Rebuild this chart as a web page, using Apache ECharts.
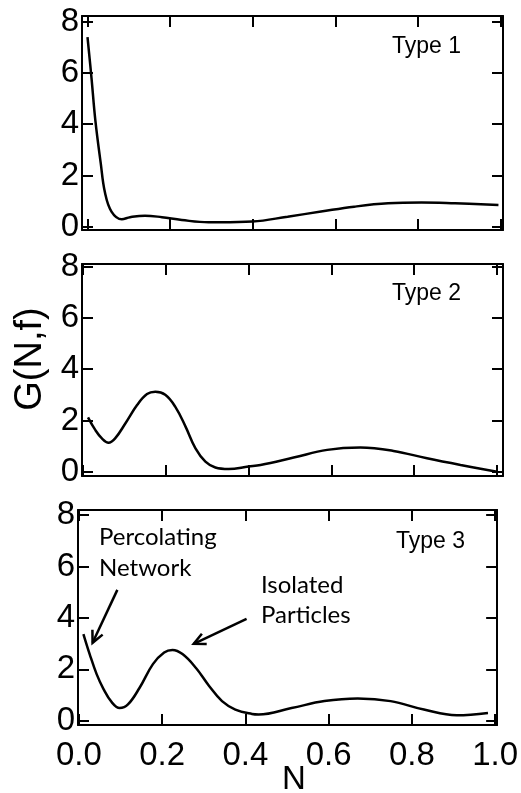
<!DOCTYPE html>
<html>
<head>
<meta charset="utf-8">
<script src="https://cdn.jsdelivr.net/npm/echarts@6/dist/echarts.min.js"></script>
<style>
  html, body { margin: 0; padding: 0; background: #fff; }
  #chart { width: 521px; height: 793px; }
</style>
</head>
<body>
<div id="chart"></div>
<script>
// G(N,f) for three particle types, sampled along N
const nType1 = [0, 0.0097, 0.019, 0.032, 0.042, 0.058, 0.083, 0.103, 0.139, 0.18, 0.228, 0.293, 0.322, 0.399, 0.484, 0.565, 0.645, 0.727, 0.808, 0.889, 0.994];
const gType1 = [7.40, 5.80, 4.15, 2.48, 1.35, 0.59, 0.29, 0.37, 0.43, 0.37, 0.26, 0.17, 0.17, 0.20, 0.39, 0.59, 0.78, 0.91, 0.94, 0.91, 0.85];

const nType2 = [0.0125, 0.030, 0.046, 0.062, 0.078, 0.103, 0.131, 0.155, 0.175, 0.199, 0.223, 0.248, 0.272, 0.296, 0.32, 0.352, 0.40, 0.429, 0.509, 0.59, 0.67, 0.75, 0.831, 0.912, 1.0];
const gType2 = [2.12, 1.63, 1.30, 1.13, 1.30, 1.89, 2.60, 3.03, 3.12, 3.00, 2.54, 1.76, 0.91, 0.39, 0.16, 0.10, 0.20, 0.26, 0.55, 0.85, 0.94, 0.81, 0.52, 0.26, 0.0];

const nType3 = [0.011, 0.026, 0.043, 0.059, 0.079, 0.098, 0.118, 0.146, 0.178, 0.205, 0.225, 0.249, 0.281, 0.313, 0.344, 0.376, 0.416, 0.432, 0.511, 0.59, 0.67, 0.749, 0.829, 0.908, 0.983];
const gType3 = [3.37, 2.59, 1.80, 1.24, 0.72, 0.49, 0.63, 1.28, 2.20, 2.65, 2.75, 2.59, 2.06, 1.35, 0.76, 0.43, 0.26, 0.24, 0.49, 0.76, 0.86, 0.76, 0.43, 0.21, 0.30];

const xTicks = [0, 0.2, 0.4, 0.6, 0.8, 1.0];
const yTicks = [0, 2, 4, 6, 8];
const panelNames = ['Type 1', 'Type 2', 'Type 3'];

// Annotation arrows on the Type 3 panel, in data units [N, G]
const arrows = [
  { from: [0.0925, 5.09], to: [0.033, 3.03] },
  { from: [0.403, 3.96], to: [0.276, 2.99] }
];

const FONT = "'Liberation Sans', Arial, sans-serif";
const NOTE_FONT = "Lato, 'Open Sans', sans-serif";

// Panel frames and axis extents
const panels = [
  { left: 82, top: 16, width: 421, height: 214, xMin: -0.0133, xMax: 1.005, yMin: -0.13, yMax: 8.22 },
  { left: 82, top: 264, width: 421, height: 212, xMin: -0.002, xMax: 1.0145, yMin: -0.17, yMax: 8.11 },
  { left: 78, top: 510, width: 421, height: 215, xMin: -0.002, xMax: 1.005, yMin: -0.17, yMax: 8.2 }
];
const curves = [[nType1, gType1], [nType2, gType2], [nType3, gType3]];

const axisLine = { show: true, onZero: false, lineStyle: { color: '#000', width: 2 } };
const tick = (vals) => ({ show: true, inside: true, length: 11, lineStyle: { color: '#000', width: 2 }, customValues: vals });

const grids = [], xAxes = [], yAxes = [], series = [];
panels.forEach((p, i) => {
  grids.push({ left: p.left, top: p.top, width: p.width, height: p.height, containLabel: false });
  const last = i === panels.length - 1;
  xAxes.push({
    type: 'value', gridIndex: i, position: 'bottom', min: p.xMin, max: p.xMax,
    axisLine, axisTick: tick(xTicks), splitLine: { show: false },
    axisLabel: last ? {
      show: true, customValues: xTicks, margin: 14, color: '#000',
      fontFamily: FONT, fontSize: 33, formatter: v => v.toFixed(1)
    } : { show: false }
  });
  xAxes.push({
    type: 'value', gridIndex: i, position: 'top', min: p.xMin, max: p.xMax,
    axisLine, axisTick: tick(xTicks), splitLine: { show: false }, axisLabel: { show: false }
  });
  yAxes.push({
    type: 'value', gridIndex: i, position: 'left', min: p.yMin, max: p.yMax,
    axisLine, axisTick: tick(yTicks), splitLine: { show: false },
    axisLabel: { show: true, customValues: yTicks, margin: 3, color: '#000', fontFamily: FONT, fontSize: 33 }
  });
  yAxes.push({
    type: 'value', gridIndex: i, position: 'right', min: p.yMin, max: p.yMax,
    axisLine, axisTick: tick(yTicks), splitLine: { show: false }, axisLabel: { show: false }
  });
  const [ns, gs] = curves[i];
  series.push({
    type: 'line', xAxisIndex: 2 * i, yAxisIndex: 2 * i,
    data: ns.map((n, k) => [n, gs[k]]),
    showSymbol: false, smooth: 0.4, silent: true,
    lineStyle: { color: '#000', width: 2.5 }
  });
});

const textStyle = (text, size, family) => ({ text, fill: '#000', fontSize: size, fontFamily: family });

const graphics = [
  { type: 'text', left: 392, top: 35, style: textStyle(panelNames[0], 23, FONT) },
  { type: 'text', left: 392, top: 282, style: textStyle(panelNames[1], 23, FONT) },
  { type: 'text', left: 396, top: 530, style: textStyle(panelNames[2], 23, FONT) },
  { type: 'text', left: 99, top: 525, style: textStyle('Percolating', 24, NOTE_FONT) },
  { type: 'text', left: 99, top: 556, style: textStyle('Network', 24, NOTE_FONT) },
  { type: 'text', left: 261, top: 573, style: textStyle('Isolated', 24, NOTE_FONT) },
  { type: 'text', left: 261, top: 603, style: textStyle('Particles', 24, NOTE_FONT) },
  {
    type: 'text', x: 31, y: 359, rotation: Math.PI / 2,
    style: { text: 'G(N,f)', fill: '#000', fontSize: 38, fontFamily: FONT, align: 'center', verticalAlign: 'middle' }
  },
  {
    type: 'text', x: 294, y: 780,
    style: { text: 'N', fill: '#000', fontSize: 33, fontFamily: FONT, align: 'center', verticalAlign: 'middle' }
  }
];

const chart = echarts.init(document.getElementById('chart'), null, { renderer: 'canvas' });
chart.setOption({
  animation: false,
  backgroundColor: '#fff',
  grid: grids, xAxis: xAxes, yAxis: yAxes, series,
  graphic: graphics
});

// Arrows: positions come from the Type 3 panel's scales
const finder = { xAxisIndex: 4, yAxisIndex: 4 };
arrows.forEach(a => {
  const p0 = chart.convertToPixel(finder, a.from);
  const p1 = chart.convertToPixel(finder, a.to);
  const ang = Math.atan2(p0[1] - p1[1], p0[0] - p1[0]);
  const L = 13, spread = 0.45;
  const h1 = [p1[0] + L * Math.cos(ang + spread), p1[1] + L * Math.sin(ang + spread)];
  const h2 = [p1[0] + L * Math.cos(ang - spread), p1[1] + L * Math.sin(ang - spread)];
  graphics.push({ type: 'polyline', shape: { points: [p0, p1] }, style: { stroke: '#000', lineWidth: 2.5, fill: null } });
  graphics.push({ type: 'polyline', shape: { points: [h1, p1, h2] }, style: { stroke: '#000', lineWidth: 2.5, fill: null, lineJoin: 'miter' } });
});
chart.setOption({ graphic: graphics });
</script>
</body>
</html>
